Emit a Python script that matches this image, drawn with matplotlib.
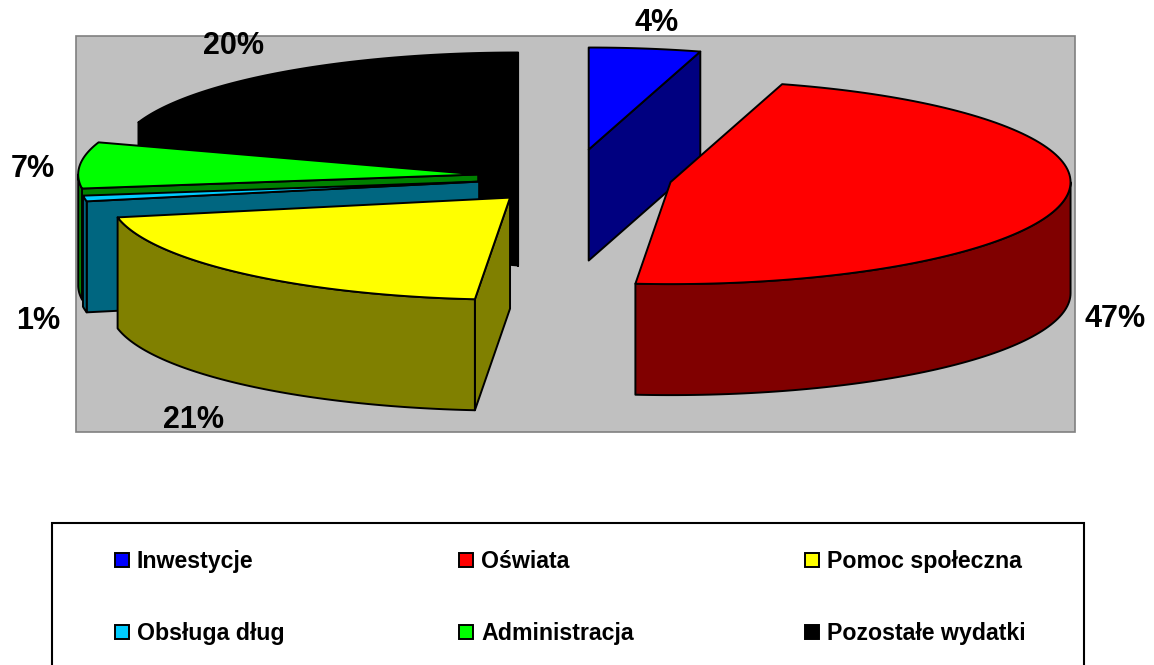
import numpy as np
import matplotlib
matplotlib.use('Agg')
import matplotlib.pyplot as plt
from matplotlib.patches import Polygon, Rectangle

plt.rcParams['font.family'] = ['Liberation Sans', 'DejaVu Sans']

# shares, slices go clockwise from 12 o'clock
labels = ['Inwestycje', 'Oświata', 'Pomoc społeczna', 'Obsługa dług', 'Administracja', 'Pozostałe wydatki']
values = [4.5, 46.9, 20.5, 0.9, 7.3, 19.9]
shown = ['4%', '47%', '21%', '1%', '7%', '20%']
top_colors = ['#0000ff', '#ff0000', '#ffff00', '#00ccff', '#00ff00', '#000000']
side_colors = ['#000080', '#800000', '#808000', '#006680', '#008000', '#000000']

# layout in pixels
W, H = 1154, 665
cx, cy = 575, 177
rx, ry = 400, 102
depth = 111
explode_x = 0.243
explode_y = 0.272
label_pos = [(657, 31), (1115, 327), (193, 428), (38, 329), (33, 177), (234, 54)]
legend_x = [115, 459, 805]
legend_y = [568, 640]
draw_order = [5, 4, 3, 2, 0, 1]

fig = plt.figure(figsize=(W / 100, H / 100), dpi=100)
ax = fig.add_axes([0, 0, 1, 1])
ax.set_xlim(0, W)
ax.set_ylim(H, 0)
ax.axis('off')

ax.add_patch(Rectangle((76, 36), 999, 396, fc='#c0c0c0', ec='#808080', lw=1.2))


def point(x0, y0, deg):
    t = np.radians(deg)
    return x0 + rx * np.sin(t), y0 - ry * np.cos(t)


def wall(pts, color):
    ax.add_patch(Polygon(pts, closed=True, fc=color, ec='black', lw=1.4, joinstyle='round'))


edges = np.concatenate([[0], np.cumsum(values)]) / sum(values) * 360

for i in draw_order:
    a0, a1 = edges[i], edges[i + 1]
    mid = (a0 + a1) / 2
    x0, y0 = point(cx, cy, mid)
    x0 = cx + (x0 - cx) * explode_x
    y0 = cy + (y0 - cy) * explode_y
    side = side_colors[i]

    # cut faces, only the ones turned to the viewer
    if np.sin(np.radians(a0)) < 0:
        px, py = point(x0, y0, a0)
        wall([(x0, y0), (px, py), (px, py + depth), (x0, y0 + depth)], side)
    if np.sin(np.radians(a1)) > -1e-6:
        px, py = point(x0, y0, a1)
        wall([(x0, y0), (px, py), (px, py + depth), (x0, y0 + depth)], side)

    # outer rim, front half of the ellipse
    s0, s1 = max(a0, 90), min(a1, 270)
    if s1 > s0:
        t = np.linspace(s0, s1, 80)
        px, py = point(x0, y0, t)
        rim = list(zip(px, py)) + list(zip(px[::-1], py[::-1] + depth))
        wall(rim, side)

    # top face
    t = np.linspace(a0, a1, 120)
    px, py = point(x0, y0, t)
    wall([(x0, y0)] + list(zip(px, py)), top_colors[i])

for txt, (x, y) in zip(shown, label_pos):
    ax.text(x, y, txt, fontsize=22, fontweight='bold', ha='center', va='baseline')

# legend
ax.add_patch(Rectangle((52, 523), 1032, 160, fc='white', ec='black', lw=1.5))
for i, name in enumerate(labels):
    lx = legend_x[i % 3]
    ly = legend_y[i // 3]
    ax.add_patch(Rectangle((lx, ly - 15), 14, 14, fc=top_colors[i], ec='black', lw=1.4))
    ax.text(lx + 22, ly, name, fontsize=16.7, fontweight='bold', ha='left', va='baseline')

fig.savefig('out.png', dpi=100)
